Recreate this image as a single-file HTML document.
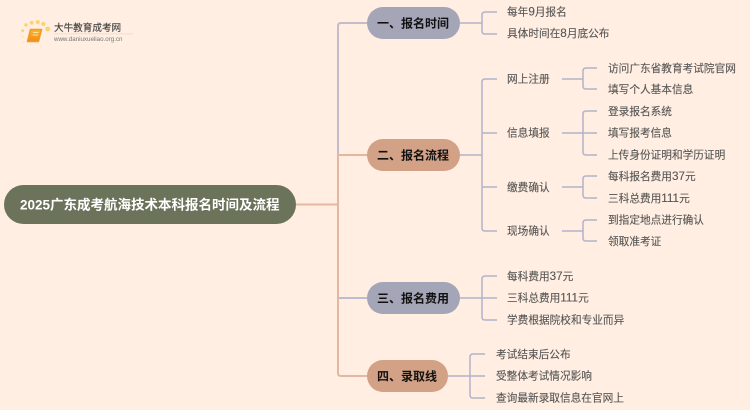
<!DOCTYPE html>
<html lang="zh"><head><meta charset="utf-8">
<style>
html,body{margin:0;padding:0;background:#ffeee1}
svg{display:block}
text{font-family:"Liberation Sans","Noto Sans CJK SC",sans-serif}
.l{font-size:10.67px;fill:#555;stroke:#555;stroke-width:.12}
.l tspan{font-size:11.7px}
.b{font-size:12px;font-weight:700;fill:#111}
path{fill:none;stroke-width:1.5}
.p{stroke:#b2b3cb}
.g{stroke:#c2bccb;stroke-width:2}
.o{stroke:#e3b8a0;stroke-width:2}
</style></head>
<body>
<svg width="750" height="410" viewBox="0 0 750 410" xmlns="http://www.w3.org/2000/svg">
<defs><linearGradient id="bk" x1="0" y1="0" x2="0" y2="1"><stop offset="0" stop-color="#fbb62e"/><stop offset="1" stop-color="#f28a1a"/></linearGradient></defs>
<rect width="750" height="410" fill="#ffeee1"/>
<!-- logo -->
<g fill="#fbd26f">
<circle cx="23.300" cy="42.300" r="1" fill="#fde8bd"/><circle cx="22.700" cy="36.700" r="1.100" fill="#fde3a8"/><circle cx="22.700" cy="30.700" r="1.400"/><circle cx="26" cy="25" r="1.700"/><circle cx="31.700" cy="22.700" r="1.900"/><circle cx="37.700" cy="22" r="2"/><circle cx="43.300" cy="24" r="2.100"/><circle cx="47.700" cy="29" r="2.400"/>
</g>
<path d="M30.500 29.500H41.500L38.500 41.500H27.500Z" style="fill:url(#bk);stroke:#f29a22;stroke-width:1.500;stroke-linejoin:round"/>
<path d="M33 32.500H38.500M32.500 35H38" style="stroke:#fde0a0;stroke-width:1"/>
<text x="54" y="31" font-size="9.600" fill="#444" stroke="#444" stroke-width=".15">大牛教育成考网</text>
<line x1="54" y1="33.700" x2="133" y2="33.700" stroke="#eee0d4" stroke-width="1"/>
<text x="54" y="41" font-size="6.200" fill="#777">www.daniuxueliao.org.cn</text>

<!-- main connectors -->
<path class="o" d="M296 204.500H338"/>
<path class="g" d="M338 155V26Q338 23 341 23H367"/>
<path class="o" d="M338 155H367M338 155V373Q338 376 341 376H367"/>
<path class="g" d="M339 298H367" style="stroke:#bcbdd0"/>

<!-- branch connectors -->
<path class="p" d="M460 23H482M497 12H485Q482 12 482 15V31Q482 34 485 34H497"/>
<path class="p" d="M460 155H482M497 79H485Q482 79 482 82V228Q482 231 485 231H497M482 133H497M482 187H497"/>
<path class="p" d="M460 298H497M497 276H485Q482 276 482 279V317Q482 320 485 320H497"/>
<path class="p" d="M448 376H485M485 354H473Q470 354 470 357V395Q470 398 473 398H485"/>

<!-- sub connectors -->
<path class="p" d="M562 79H583M597 68H586Q583 68 583 71V86Q583 89 586 89H597"/>
<path class="p" d="M562 133H597M597 111H586Q583 111 583 114V152Q583 155 586 155H597"/>
<path class="p" d="M562 187H583M597 176H586Q583 176 583 179V195Q583 198 586 198H597"/>
<path class="p" d="M562 231H583M597 220H586Q583 220 583 223V238Q583 241 586 241H597"/>

<!-- root -->
<rect x="4" y="185" width="292" height="39" rx="19.500" fill="#6b735b"/>
<text x="20" y="209.500" font-size="13.500" font-weight="700" fill="#fff">2025广东成考航海技术本科报名时间及流程</text>

<!-- branches -->
<rect x="367" y="7" width="93" height="32" rx="16" fill="#a5a5b8"/>
<text class="b" x="377" y="27.500">一、报名时间</text>
<rect x="367" y="139" width="93" height="32" rx="16" fill="#d2a186"/>
<text class="b" x="377" y="159.500">二、报名流程</text>
<rect x="367" y="282" width="93" height="32" rx="16" fill="#a5a5b8"/>
<text class="b" x="377" y="302.500">三、报名费用</text>
<rect x="367" y="360" width="81" height="32" rx="16" fill="#d2a186"/>
<text class="b" x="377" y="380.500">四、录取线</text>

<!-- leaves -->
<text class="l" x="507" y="15.500">每年<tspan>9</tspan>月报名</text>
<text class="l" x="507" y="37">具体时间在<tspan>8</tspan>月底公布</text>
<text class="l" x="507" y="82.500">网上注册</text>
<text class="l" x="507" y="136.500">信息填报</text>
<text class="l" x="507" y="191">缴费确认</text>
<text class="l" x="507" y="234.500">现场确认</text>
<text class="l" x="608" y="72">访问广东省教育考试院官网</text>
<text class="l" x="608" y="93">填写个人基本信息</text>
<text class="l" x="608" y="115">登录报名系统</text>
<text class="l" x="608" y="136.500">填写报考信息</text>
<text class="l" x="608" y="158.500">上传身份证明和学历证明</text>
<text class="l" x="608" y="180">每科报名费用<tspan>37</tspan>元</text>
<text class="l" x="608" y="202">三科总费用<tspan>111</tspan>元</text>
<text class="l" x="608" y="223.500">到指定地点进行确认</text>
<text class="l" x="608" y="245">领取准考证</text>
<text class="l" x="507" y="280">每科费用<tspan>37</tspan>元</text>
<text class="l" x="507" y="301.500">三科总费用<tspan>111</tspan>元</text>
<text class="l" x="507" y="323.500">学费根据院校和专业而异</text>
<text class="l" x="496" y="358">考试结束后公布</text>
<text class="l" x="496" y="379.500">受整体考试情况影响</text>
<text class="l" x="496" y="401.500">查询最新录取信息在官网上</text>
</svg>
</body></html>
